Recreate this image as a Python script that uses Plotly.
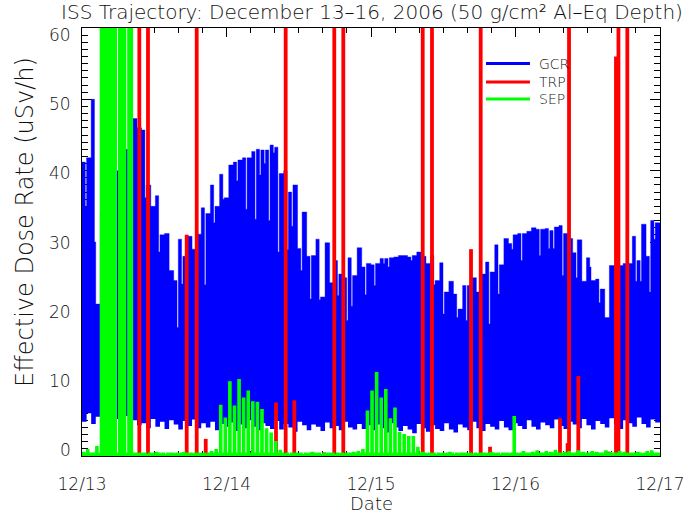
import pandas as pd
import plotly.graph_objects as go

START = pd.Timestamp("2006-12-13 00:00:00")
END = pd.Timestamp("2006-12-17 00:00:00")

# GCR: envelope value reached on each half-orbit (high-latitude pass), uSv/h
gcr_peak = [
    41.2, 41.8, 50.0, 21.3, 34.0, 40.0, 42.0, 40.0, 45.2, 43.0,
    42.2, 47.3, 46.0, 45.7, 38.0, 35.0, 36.5, 31.0, 31.2, 26.0,
    24.6, 30.4, 28.0, 30.8, 29.0, 31.1, 34.8, 34.0, 38.0, 35.0,
    39.5, 36.2, 40.8, 41.2, 41.5, 41.8, 41.8, 42.7, 43.0, 42.9,
    42.9, 43.6, 43.3, 39.6, 40.0, 37.0, 38.0, 29.1, 34.2, 28.0,
    28.1, 30.4, 22.3, 29.9, 24.3, 27.4, 25.5, 25.0, 27.8, 25.3,
    29.2, 26.5, 27.0, 26.8, 27.0, 27.7, 27.7, 27.8, 27.9, 28.1,
    28.1, 27.9, 28.1, 28.6, 28.0, 27.0, 28.1, 24.6, 27.1, 23.0,
    24.5, 22.7, 20.6, 23.9, 23.9, 25.0, 23.0, 25.5, 27.2, 25.8,
    29.6, 26.8, 30.5, 29.8, 31.0, 31.2, 31.2, 31.5, 32.0, 31.8,
    31.8, 31.9, 31.6, 32.1, 32.3, 31.2, 30.5, 28.5, 30.3, 24.5,
    27.8, 24.6, 24.8, 23.4, 19.4, 26.7, 26.7, 26.7, 27.0, 27.0,
    30.8, 27.4, 32.5, 28.0, 33.0, 32.7,
]
# GCR: value at the short dip that ends each half-orbit
gcr_dip = [
    35.0, 41.8, 30.0, 21.3, 34.0, 40.0, 42.0, 40.0, 45.2, 43.0,
    42.2, 47.3, 46.0, 36.2, 38.0, 35.0, 28.6, 31.0, 31.2, 26.0,
    18.0, 24.1, 28.0, 30.8, 27.0, 31.1, 24.0, 34.0, 32.7, 35.0,
    36.0, 36.2, 40.8, 38.6, 41.5, 34.6, 41.8, 33.2, 39.4, 41.0,
    33.0, 42.5, 28.6, 39.6, 28.9, 32.2, 38.0, 26.0, 34.2, 22.0,
    28.1, 21.9, 22.3, 29.9, 24.3, 22.5, 25.5, 19.0, 21.0, 25.3,
    29.2, 22.6, 27.0, 23.9, 27.0, 27.0, 26.5, 27.8, 27.9, 28.1,
    28.1, 27.4, 28.1, 28.6, 28.0, 27.0, 24.0, 24.6, 19.9, 23.0,
    24.5, 19.4, 20.6, 19.0, 23.9, 25.0, 23.0, 25.5, 18.5, 25.8,
    22.7, 26.8, 30.5, 29.0, 31.0, 27.4, 31.2, 31.5, 32.0, 28.1,
    31.8, 29.1, 29.1, 32.1, 25.3, 31.2, 30.5, 25.0, 30.3, 24.5,
    26.5, 24.6, 21.5, 23.4, 19.4, 26.7, 26.7, 26.7, 27.0, 27.0,
    24.5, 24.5, 32.5, 23.0, 30.4, 32.7,
]
# GCR: low-latitude minimum of each half-orbit
gcr_low = [
    4.8, 6.0, 4.5, 5.5, 4.2, 5.8, 4.6, 5.2, 4.0, 5.6, 4.4, 5.0, 4.3,
    4.6, 3.9, 5.2, 4.1, 4.8, 3.8, 5.0, 4.4, 3.7, 4.9, 4.2, 5.1, 3.9, 4.6, 4.0, 4.8, 3.6, 4.5, 4.1,
    4.7, 3.5, 4.4, 3.9, 5.0, 4.1, 3.6, 4.6, 4.2, 3.8, 4.9, 3.7, 4.5, 4.0, 3.4, 4.8, 4.3, 3.6,
    4.4, 4.1, 3.5, 4.7, 3.9, 4.2, 3.6, 4.8, 4.0, 3.7, 4.5, 3.8, 4.3,
    3.6, 4.4, 3.9, 3.3, 4.6, 4.0, 3.5, 4.2, 3.7, 3.2, 4.5, 3.9, 3.4, 4.3, 3.8, 3.5, 4.6, 3.7,
    3.3, 4.4, 4.0, 3.6, 4.8, 3.9, 3.5, 4.5, 4.1, 3.7, 4.9, 4.0, 3.6,
    4.6, 4.2, 3.8, 5.0, 4.1, 3.7, 4.7, 4.3, 3.9, 5.1, 4.2, 3.8, 4.8, 4.4, 3.9, 5.2, 4.3, 3.7,
    4.9, 4.5, 4.0, 5.3, 4.4, 3.8, 5.0, 4.6, 4.1, 5.4, 4.5, 4.0, 5.1, 4.7,
]
# SEP: value on each half-orbit and value in the gap after it (100 = off scale)
sep_peak = [
    0.5, 0.9, 0.4, 1.3, 100, 100, 100, 100, 100, 100,
    100, 0.4, 0.3, 0.4, 0.2, 0.3, 0.5, 0.3, 0.2, 0.4,
    0.3, 0.3, 0.5, 0.2, 0.3, 0.4, 0.3, 0.2, 0.6, 0.9,
    7.1, 5.3, 10.4, 7.0, 10.7, 8.1, 9.1, 7.6, 7.5, 6.5,
    3.8, 3.2, 2.0, 0.8, 0.3, 0.2, 0.4, 0.3, 0.2, 0.3,
    0.5, 0.3, 0.2, 0.3, 0.4, 0.2, 0.3, 0.3, 0.4, 0.5,
    0.6, 0.9, 6.3, 9.1, 11.7, 8.1, 9.3, 5.2, 6.7, 3.3,
    3.0, 2.7, 2.7, 1.2, 0.5, 0.3, 0.4, 0.2, 0.3, 0.3,
    0.5, 0.2, 0.3, 0.4, 0.3, 0.2, 0.3, 0.4, 0.3, 0.5,
    0.3, 0.2, 0.4, 0.3, 5.5, 0.3, 0.6, 0.4, 0.5, 0.7,
    0.4, 0.6, 0.5, 0.8, 0.4, 0.5, 0.6, 0.4, 0.7, 0.5,
    0.4, 0.6, 0.5, 0.4, 0.7, 0.5, 0.4, 0.6, 0.5, 0.3,
    0.4, 0.5, 0.3, 0.6, 0.7, 0.4,
]
sep_gap = [0.4] * 4 + [100, 100, 100, 0.4, 100, 0.4, 100] + [0.4] * 115

# TRP: South Atlantic Anomaly passes (hours after 12/13 00:00) and dose (100 = off scale)
trp_hours = [7.81, 9.52, 10.96, 15.78, 17.39, 19.05, 20.55, 32.22, 33.83, 35.26,
             40.24, 41.9, 43.4, 56.59, 58.13, 63.06, 64.61, 66.22, 67.77, 79.39,
             80.66, 80.89, 82.43, 87.41, 88.69, 89.1, 90.57]
trp_vals = [0.2, 100, 100, 0.3, 31, 100, 2.4, 7.5, 100, 7.8,
            0.5, 100, 100, 100, 100, 0.3, 29, 100, 1.3, 5.3,
            1.8, 100, 11.2, 0.6, 56, 100, 100]

x_tick_labels = ["12/13", "12/14", "12/15", "12/16", "12/17"]
y_tick_values = [0, 10, 20, 30, 40, 50, 60]
legend_names = ["GCR", "TRP", "SEP"]
series_colors = ["#0000ff", "#ff0000", "#00ff00"]

assert len(gcr_peak) == len(gcr_dip) == len(gcr_low) == len(sep_peak) == len(sep_gap) == 126
assert len(trp_hours) == len(trp_vals)

n = len(gcr_peak)
step = (END - START) / n
slot_start = [START + k * step for k in range(n)]

NOTCH = 0.28   # share of a half-orbit taken by the dip
SEP_COL = 0.5  # share of a half-orbit taken by an SEP spike

gx, gy = [], []
for t, p, d in zip(slot_start, gcr_peak, gcr_dip):
    gx += [t, t + step * (1 - NOTCH)]
    gy += [p, d]
gx.append(END)
gy.append(gcr_dip[-1])
lx = slot_start + [END]
ly = gcr_low + [gcr_low[-1]]

sx, sy = [], []
for t, p, g in zip(slot_start, sep_peak, sep_gap):
    sx += [t, t + step * SEP_COL]
    sy += [p, g]
sx.append(END)
sy.append(sep_gap[-1])

tx, ty = [], []
for h, v in zip(trp_hours, trp_vals):
    t = START + pd.Timedelta(hours=h)
    tx += [t, t, None]
    ty += [0, v, None]

fig = go.Figure()
fig.add_trace(go.Scatter(x=lx, y=ly, mode="lines", line=dict(width=0, shape="hv", color=series_colors[0]),
                         showlegend=False, hoverinfo="skip"))
fig.add_trace(go.Scatter(x=gx, y=gy, mode="lines", line=dict(width=0.4, shape="hv", color=series_colors[0]),
                         fill="tonexty", fillcolor=series_colors[0], name="GCR", showlegend=False))
fig.add_trace(go.Scatter(x=tx, y=ty, mode="lines", line=dict(width=3.8, color=series_colors[1]),
                         name="TRP", showlegend=False))
fig.add_trace(go.Scatter(x=sx, y=sy, mode="lines", line=dict(width=1.3, shape="hv", color=series_colors[2]),
                         fill="tozeroy", fillcolor=series_colors[2], name="SEP", showlegend=False))

FONT = "DejaVu Sans"
TXT = "#111111"

# legend drawn as line samples + labels
legend_y = [0.917, 0.874, 0.834]
shapes = []
annotations = []
for name, col, yy in zip(legend_names, series_colors, legend_y):
    shapes.append(dict(type="line", xref="paper", yref="paper", x0=0.699, x1=0.775, y0=yy, y1=yy,
                       line=dict(color=col, width=3)))
    annotations.append(dict(xref="paper", yref="paper", x=0.787, y=yy, xanchor="left", yanchor="middle",
                            text=name, showarrow=False, font=dict(family=FONT, size=14, color=TXT, weight=300)))

# y tick labels, placed beside their ticks the way the original plotting package sets them
for v in y_tick_values:
    annotations.append(dict(xref="paper", yref="y", x=0, y=v, xanchor="right", yanchor="middle",
                            xshift=-9, yshift=6 - 0.217 * v, text=str(v), showarrow=False,
                            font=dict(family=FONT, size=17, color=TXT, weight=300)))

annotations.append(dict(xref="paper", yref="paper", x=0.5, y=-0.111, xanchor="center", yanchor="middle",
                        text="Date", showarrow=False, font=dict(family=FONT, size=18, color=TXT, weight=300)))
annotations.append(dict(xref="paper", yref="paper", x=-0.0986, y=0.547, xanchor="center", yanchor="middle",
                        text="Effective Dose Rate (uSv/h)", textangle=-90, showarrow=False,
                        font=dict(family=FONT, size=24, color=TXT, weight=300)))

day_ticks = [START + pd.Timedelta(days=d) for d in range(5)]

fig.update_layout(
    width=694, height=514,
    margin=dict(l=82, r=34, t=28, b=58, pad=0, autoexpand=False),
    paper_bgcolor="white", plot_bgcolor="white",
    showlegend=False,
    font=dict(family=FONT, color=TXT),
    title=dict(text="ISS Trajectory: December 13\u201316, 2006 (50 g/cm\u00b2 Al\u2013Eq Depth)",
               x=0.5017, xref="paper", xanchor="center", y=1 - 12 / 514, yref="container", yanchor="middle",
               font=dict(family=FONT, size=20, color=TXT, weight=300)),
    shapes=shapes,
    annotations=annotations,
)
fig.update_xaxes(
    type="date", range=[START, END], tickmode="array", tickvals=day_ticks, ticktext=x_tick_labels,
    ticks="inside", ticklen=9, tickwidth=1, tickcolor="black", automargin=False,
    showline=True, linecolor="black", linewidth=1, mirror="allticks",
    showgrid=False, zeroline=False, layer="below traces",
    tickfont=dict(family=FONT, size=17, color=TXT, weight=300), ticklabelstandoff=13,
    minor=dict(dtick=4 * 3600 * 1000, tick0=START, ticks="inside", ticklen=5, tickwidth=1, tickcolor="black",
               showgrid=False),
)
fig.update_yaxes(
    range=[0, 60], tickmode="array", tickvals=y_tick_values, showticklabels=False,
    ticks="inside", ticklen=10, tickwidth=1, tickcolor="black", automargin=False,
    showline=True, linecolor="black", linewidth=1, mirror="allticks",
    showgrid=False, zeroline=False, layer="below traces",
    minor=dict(dtick=1, tick0=0, ticks="inside", ticklen=6, tickwidth=1, tickcolor="black", showgrid=False),
)

fig.write_html("out.html", config={"displayModeBar": False},
               post_script="document.body.style.margin='0';document.body.style.padding='0';")
